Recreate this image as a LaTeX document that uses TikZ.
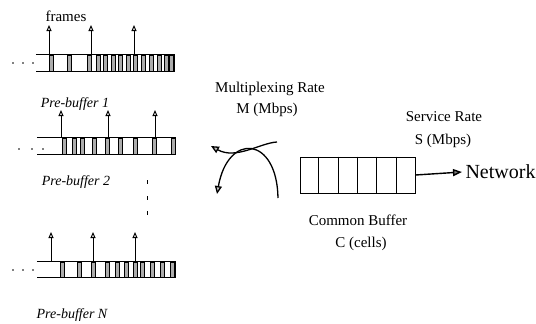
\documentclass[tikz,border=0pt]{standalone}
\usepackage{fontspec}
\setmainfont{Liberation Serif}
\usepackage{tikz}
\usetikzlibrary{arrows.meta,calc,positioning}
\tikzset{%
	strip/.style    = {rectangle, inner sep=0pt, minimum width=138, minimum height=16}, % Pre-buffer
	cell/.style     = {draw, fill=gray!65, line width=0.6pt}, % Frame cell
	frame/.style    = {-{Triangle[fill=gray!35,length=6pt,width=5pt]}, line width=0.9pt}, % Frame arrow
	rate/.style     = {-{Triangle[fill=gray!50,length=8pt,width=7pt]}, line width=1.3pt}, % Multiplexing
	buffer/.style   = {draw, rectangle, inner sep=0pt, minimum width=115, minimum height=36, line width=1pt},
	label/.style    = {font=\fontsize{14}{16}\selectfont\itshape},
	txt/.style      = {font=\fontsize{15}{17}\selectfont},
	dot/.style      = {fill, circle, inner sep=0pt, minimum size=1.8},
}

\begin{document}
\begin{tikzpicture}[x=1pt, y=-1pt]
	\useasboundingbox (0,0) rectangle (536,324);
	% pre-buffers
	\node[strip] (pb1) at (105,63) {};
	\node[strip] (pb2) at (106,146) {};
	\node[strip, minimum height=15] (pbN) at (106,269.5) {};
	\foreach \b in {pb1,pb2,pbN}
		\draw[line width=1pt] (\b.north west) -- (\b.north east) -- (\b.south east) -- (\b.south west);
	\foreach \x in {13,31,51,60,67,75,82,90,97,105,113,121,128,133}
		\draw[cell] ([xshift=\x]pb1.north west) rectangle ([xshift=\x+4]pb1.south west);
	\foreach \x in {25,35,43,55,68,81,96,115,134}
		\draw[cell] ([xshift=\x]pb2.north west) rectangle ([xshift=\x+4]pb2.south west);
	\foreach \x in {23,40,54,68,78,87,96,103,113,123,133}
		\draw[cell] ([xshift=\x]pbN.north west) rectangle ([xshift=\x+4]pbN.south west);
	% continuation dots
	\foreach \x in {13,23,33} \node[dot] at (\x,63) {};
	\foreach \x in {19,32,43} \node[dot] at (\x,149) {};
	\foreach \x in {13,23,33} \node[dot] at (\x,270) {};
	\foreach \y in {182,198,213} \draw[line width=0.9pt] (147,\y-2) -- (147,\y+2);
	% frames
	\coordinate (f11) at (49,25);
	\coordinate (f12) at (91,25);
	\coordinate (f13) at (134,25);
	\coordinate (f21) at (61,110);
	\coordinate (f22) at (108,110);
	\coordinate (f23) at (155,110);
	\coordinate (fN1) at (51,232);
	\coordinate (fN2) at (93,232);
	\coordinate (fN3) at (135,232);
	\foreach \f in {f11,f12,f13} \draw[frame] (\f |- pb1.north) -- (\f);
	\foreach \f in {f21,f22,f23} \draw[frame] (\f |- pb2.north) -- (\f);
	\foreach \f in {fN1,fN2,fN3} \draw[frame] (\f |- pbN.north) -- (\f);
	\node[txt] (fr) at (66,16) {frames};
	\node[label] at (75,104) {Pre-buffer 1};
	\node[label] at (76,182) {Pre-buffer 2};
	\node[label] at (72,315) {Pre-buffer N};
	% multiplexer
	\coordinate (a1) at (277,142);
	\coordinate (a2) at (211,146);
	\coordinate (b1) at (278,198);
	\coordinate (b2) at (217,194);
	\draw[rate] (a1) .. controls (260,143) and (236,160) .. (a2);
	\draw[rate] (b1) .. controls (277,136) and (228,132) .. (b2);
	\node[txt] at (270,89) {Multiplexing Rate};
	\node[txt] at (267,110) {M (Mbps)};
	% common buffer
	\node[buffer] (cb) at (357.5,175) {};
	\foreach \i in {1,...,5}
		\draw[line width=1pt] ($(cb.north west)!\i/6!(cb.north east)$) -- ($(cb.south west)!\i/6!(cb.south east)$);
	\node[font=\fontsize{20}{22}\selectfont, anchor=west] (net) at (462,172) {Network};
	\draw[-{Triangle[fill=gray,length=9pt,width=7pt]}, line width=1.4pt] (cb.east) -- (net.west);
	\node[txt] at (444,117) {Service Rate};
	\node[txt] at (443,141) {S (Mbps)};
	\node[txt] at (358,220) {Common Buffer};
	\node[txt] at (361,244) {C (cells)};
\end{tikzpicture}
\end{document}
